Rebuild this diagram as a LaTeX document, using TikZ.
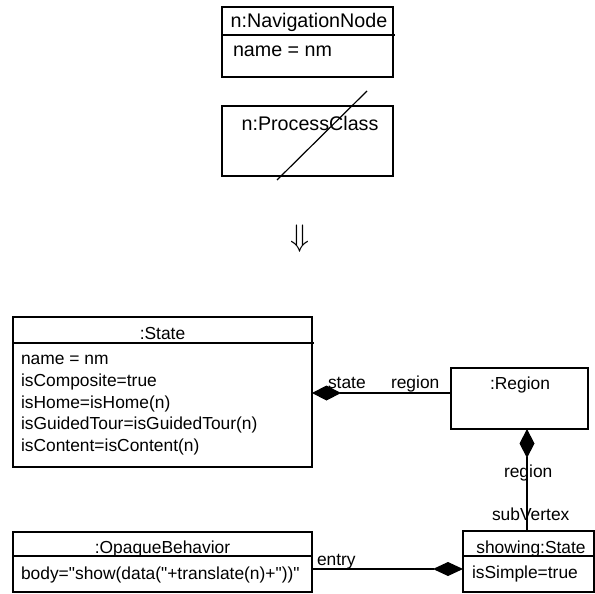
\documentclass[tikz,border=0pt]{standalone}
\usepackage{fontspec}
\setmainfont{Liberation Sans}[Ligatures=TeXOff]
\usetikzlibrary{arrows.meta}

\newcommand\bigtxt{\fontsize{19.7}{24}\selectfont}
\newcommand\smalltxt{\fontsize{17.4}{21.7}\selectfont}

\tikzset{
  objbox/.style={draw, line width=1.2pt, inner sep=0pt, outer sep=0pt, anchor=north west},
  sep/.style={line width=1.2pt},
  txt/.style={inner sep=0pt, outer sep=0pt, font=\smalltxt},
  bigt/.style={inner sep=0pt, outer sep=0pt, font=\bigtxt},
  comp/.style={line width=1.2pt, {Diamond[length=29pt,width=15pt]}-},
  compend/.style={line width=1.2pt, -{Diamond[length=30pt,width=14pt]}}
}

\begin{document}
\begin{tikzpicture}[x=1pt,y=-1pt]
  \useasboundingbox (0,0) rectangle (595,594);

  % source pattern
  \node[objbox, minimum width=171pt, minimum height=70pt] (nav) at (222,7) {};
  \draw[sep] (222,35) -- (395,35);
  \node[bigt, anchor=base] (navt) at (309,28) {n:NavigationNode};
  \node[bigt, anchor=base west] (navn) at (233,57) {name = nm};

  \node[objbox, minimum width=171pt, minimum height=70pt] (proc) at (222,106) {};
  \node[bigt, anchor=base] (proct) at (310,130) {n:ProcessClass};
  \coordinate (crossA) at (277,180);
  \coordinate (crossB) at (367,91);
  \draw[line width=1.2pt] (crossA) -- (crossB);

  % transformation arrow
  \node[inner sep=0pt] (arr) at (300.5,239)
    {\scalebox{1.25}{\fontsize{24.88}{25}\selectfont$\Downarrow$}};

  % target pattern
  \node[objbox, minimum width=299pt, minimum height=150pt] (state) at (13,317) {};
  \draw[sep] (13,343) -- (314,343);
  \node[txt, anchor=base] (statet) at (162.5,339) {:State};
  \node[txt, anchor=base west] (s1) at (21,364) {name = nm};
  \node[txt, anchor=base west] (s2) at (21,386) {isComposite=true};
  \node[txt, anchor=base west] (s3) at (21,408) {isHome=isHome(n)};
  \node[txt, anchor=base west] (s4) at (21,429) {isGuidedTour=isGuidedTour(n)};
  \node[txt, anchor=base west] (s5) at (21,451) {isContent=isContent(n)};

  \node[objbox, minimum width=137pt, minimum height=61pt] (region) at (451,368) {};
  \node[txt, anchor=base] (regiont) at (520,389) {:Region};

  \node[objbox, minimum width=299pt, minimum height=60pt] (opaque) at (13,532) {};
  \draw[sep] (13,556) -- (312,556);
  \node[txt, anchor=base] (opaquet) at (162.5,553) {:OpaqueBehavior};
  \node[txt, anchor=base west] (body) at (21,579) {body="show(data("+translate(n)+"))"};

  \node[objbox, minimum width=131pt, minimum height=61pt] (showing) at (463,531) {};
  \draw[sep] (463,556) -- (594,556);
  \node[txt, anchor=base] (showingt) at (531,553) {showing:State};
  \node[txt, anchor=base west] (simple) at (472,578) {isSimple=true};

  % composition links
  \draw[comp] ([yshift=5.5pt]region.west -| state.east) -- ([yshift=5.5pt]region.west);
  \draw[comp] ([xshift=7.5pt]region.south) -- ([xshift=7.5pt]region.south |- showing.north);
  \draw[compend] ([yshift=-7pt]opaque.east) -- ([yshift=-7pt]opaque.east -| showing.west);

  % role names
  \node[txt, anchor=base west] (lstate) at (328,388) {state};
  \node[txt, anchor=base west] (lregion) at (391,388) {region};
  \node[txt, anchor=base west] (lregion2) at (504,477) {region};
  \node[txt, anchor=base west] (lsub) at (492,520) {subVertex};
  \node[txt, anchor=base west] (lentry) at (317,565) {entry};
\end{tikzpicture}
\end{document}
